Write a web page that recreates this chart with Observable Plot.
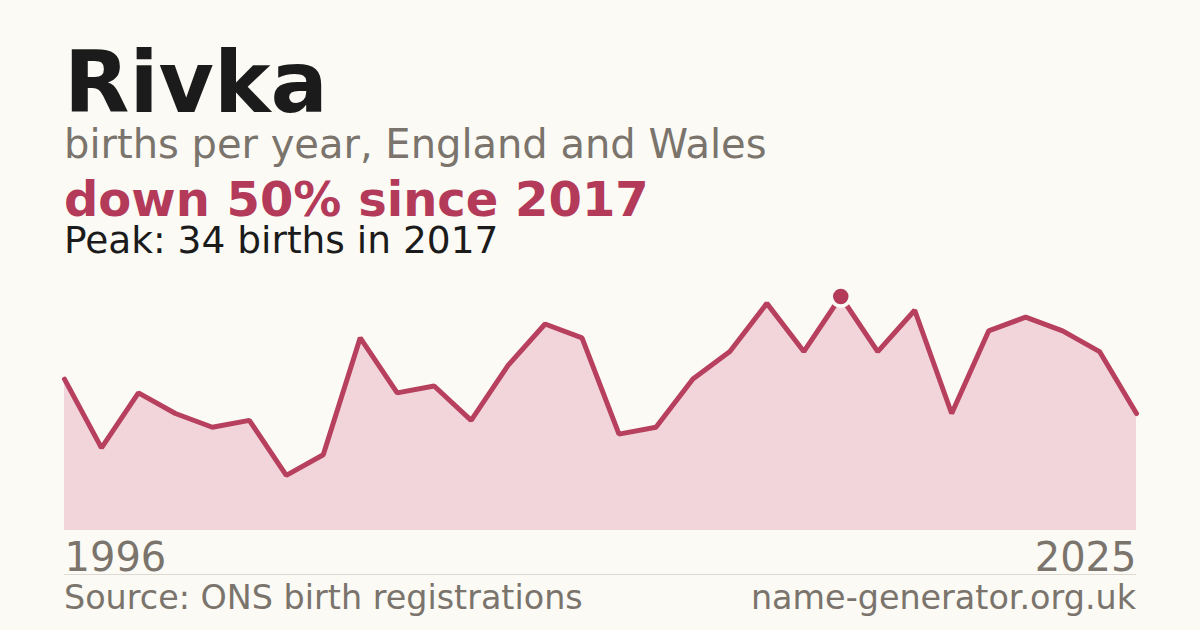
<!DOCTYPE html>
<html>
<head>
<meta charset="utf-8">
<script src="https://cdn.jsdelivr.net/npm/d3@7"></script>
<script src="https://cdn.jsdelivr.net/npm/@observablehq/plot@0.6"></script>
<style>
  html, body { margin: 0; padding: 0; background: #fbfaf5; }
  #card { position: relative; width: 1200px; height: 630px; background: #fbfaf5; font-family: "DejaVu Sans", sans-serif; overflow: hidden; }
  .t { position: absolute; left: 64px; line-height: 0.9; white-space: nowrap; }
  #chart { position: absolute; left: 0; top: 270px; }
</style>
</head>
<body>
<div id="card">
  <div class="t" style="top:45px;font-size:85px;font-weight:bold;color:#1b1b1b;">Rivka</div>
  <div class="t" style="top:126px;font-size:40px;color:#7a746c;">births per year, England and Wales</div>
  <div class="t" style="top:178px;font-size:48px;font-weight:bold;color:#b43a5a;">down 50% since 2017</div>
  <div class="t" style="top:224px;font-size:37.5px;color:#1b1b1b;">Peak: 34 births in 2017</div>
  <div id="chart"></div>
  <div style="position:absolute;left:64px;width:1072px;top:574px;height:1px;background:#dcd9d2;"></div>
  <div class="t" style="top:583px;font-size:33.4px;color:#7a746c;">Source: ONS birth registrations</div>
  <div class="t" style="top:583px;left:auto;right:64px;font-size:33.4px;color:#7a746c;">name-generator.org.uk</div>
</div>
<script>
const years = [1996,1997,1998,1999,2000,2001,2002,2003,2004,2005,2006,2007,2008,2009,2010,2011,2012,2013,2014,2015,2016,2017,2018,2019,2020,2021,2022,2023,2024,2025];
const births = [22,12,20,17,15,16,8,11,28,20,21,16,24,30,28,14,15,22,26,33,26,34,26,32,17,29,31,29,26,17];
const peakYear = 2017;
const peakValue = 34;
const endLabels = [1996, 2025];

const data = years.map((y, i) => ({year: y, births: births[i]}));

const plot = Plot.plot({
  width: 1200,
  height: 320,
  marginLeft: 64,
  marginRight: 64,
  marginTop: 26,
  marginBottom: 60,
  x: {domain: [years[0], years[years.length - 1]], axis: null},
  y: {domain: [0, peakValue], axis: null},
  style: {background: "transparent", fontFamily: "DejaVu Sans, sans-serif"},
  marks: [
    Plot.areaY(data, {x: "year", y: "births", fill: "#f2d5db"}),
    Plot.lineY(data, {x: "year", y: "births", stroke: "#b8405f", strokeWidth: 5, strokeLinejoin: "miter"}),
    Plot.dot(data.filter(d => d.year === peakYear), {x: "year", y: "births", r: 9.5, fill: "#b43a5a", stroke: "#fbfaf5", strokeWidth: 3.5}),
    Plot.text([endLabels[0]], {x: d => d, y: 0, text: d => String(d), textAnchor: "start", lineAnchor: "bottom", dy: 40, fontSize: 40, fill: "#7a746c"}),
    Plot.text([endLabels[1]], {x: d => d, y: 0, text: d => String(d), textAnchor: "end", lineAnchor: "bottom", dy: 40, fontSize: 40, fill: "#7a746c"})
  ]
});
document.getElementById("chart").appendChild(plot);
</script>
</body>
</html>
